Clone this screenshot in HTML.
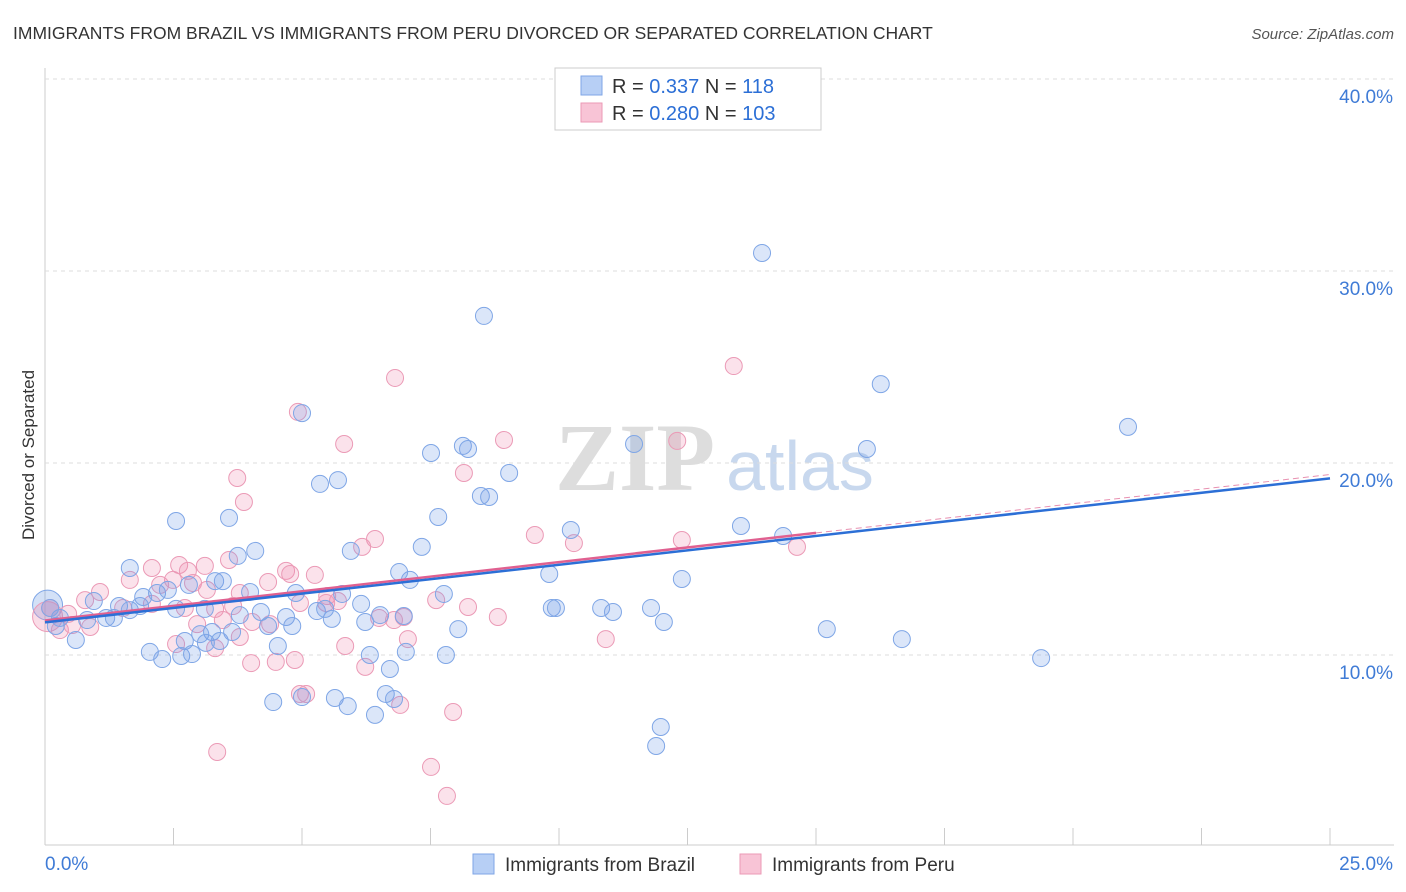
<!DOCTYPE html>
<html><head><meta charset="utf-8">
<style>
body{margin:0;background:#fff;font-family:"Liberation Sans",sans-serif;}
#wrap{position:relative;width:1406px;height:892px;overflow:hidden;}
</style></head>
<body>
<div id="wrap">
<svg id="svg" width="1406" height="892">
<text x="13" y="39" font-size="17.5" fill="#333">IMMIGRANTS FROM BRAZIL VS IMMIGRANTS FROM PERU DIVORCED OR SEPARATED CORRELATION CHART</text>
<text x="1394" y="39" font-size="15" fill="#555" font-style="italic" text-anchor="end">Source: ZipAtlas.com</text>
<text x="34" y="455" font-size="17" fill="#333" text-anchor="middle" transform="rotate(-90 34 455)">Divorced or Separated</text>
<text x="635" y="490" font-size="96" fill="#ddd" font-family="Liberation Serif" font-weight="bold" text-anchor="middle">ZIP</text>
<text x="800" y="490" font-size="70" fill="#c8d8ee" text-anchor="middle">atlas</text>
<g id="grid"></g>
<g id="pts"></g>
<g id="trend"></g>
<g>
<rect x="555" y="68" width="266" height="62" fill="#fff" stroke="#ccc"/>
<rect x="581" y="76" width="21" height="19" fill="#b7cff5" stroke="#7fa6e6"/>
<rect x="581" y="103" width="21" height="19" fill="#f8c4d6" stroke="#eb9ab6"/>
<text x="612" y="93" font-size="20" fill="#333">R = <tspan fill="#2c6fd6">0.337</tspan>   N = <tspan fill="#2c6fd6"> 118</tspan></text>
<text x="612" y="120" font-size="20" fill="#333">R = <tspan fill="#2c6fd6">0.280</tspan>   N = <tspan fill="#2c6fd6">103</tspan></text>
</g>
<g>
<rect x="473" y="854" width="21" height="20" fill="#b7cff5" stroke="#7fa6e6"/>
<text x="505" y="871" font-size="19" fill="#333">Immigrants from Brazil</text>
<rect x="740" y="854" width="21" height="20" fill="#f8c4d6" stroke="#eb9ab6"/>
<text x="772" y="871" font-size="19" fill="#333">Immigrants from Peru</text>
</g>
</svg>
</div>
<script>
const yTicks=[10,20,30,40];
const yTickLabels=["10.0%","20.0%","30.0%","40.0%"];
const xEnds=["0.0%","25.0%"];
const blueX=[13.95,8.54,16.26,21.07,5.0,8.13,8.23,7.51,11.46,15.99,9.03,5.7,5.35,8.48,8.64,2.55,3.58,7.65,10.23,13.54,14.36,5.95,7.33,3.75,4.09,1.65,7.1,6.89,9.81,12.39,3.31,3.46,2.8,3.99,4.88,5.78,7.76,2.18,2.39,1.91,1.44,0.95,2.55,3.11,4.2,4.69,5.29,5.45,6.15,6.52,6.98,9.86,9.94,10.82,11.05,11.79,12.04,15.21,16.67,19.38,8.04,6.23,5.58,4.81,4.34,3.79,3.25,3.02,3.64,2.72,0.6,0.21,0.29,0.1,2.04,2.28,2.65,2.86,3.13,3.4,4.53,6.32,7.02,7.8,6.71,4.44,5.0,5.64,5.89,6.42,6.63,6.79,11.98,11.89,1.19,1.34,1.65,1.85,0.82];
const blueY=[30.94,27.66,24.11,21.88,22.6,20.89,20.73,20.52,20.99,20.73,19.48,19.11,18.91,18.28,18.23,16.98,17.14,17.19,16.51,16.72,16.2,15.42,15.63,15.16,15.42,14.53,13.91,14.32,14.22,13.96,13.85,13.85,13.65,13.28,13.23,13.18,13.18,13.23,13.39,13.02,12.55,12.81,12.4,12.4,12.24,11.98,12.29,12.4,12.66,12.08,12.03,12.45,12.45,12.45,12.24,12.45,11.72,11.35,10.83,9.84,11.35,11.72,11.88,11.51,11.51,12.08,11.2,11.09,11.2,10.73,10.78,11.51,11.93,12.45,10.16,9.79,9.95,10.05,10.63,10.73,10.47,10.0,10.16,10.0,9.27,7.55,7.81,7.76,7.34,6.88,7.97,7.71,6.25,5.26,11.93,11.93,12.34,12.55,11.82];
const pinkX=[13.4,6.81,4.92,5.82,8.93,12.3,8.15,3.74,3.87,6.42,9.53,10.29,12.39,14.63,6.17,2.08,2.61,3.58,2.78,3.11,4.69,4.77,5.25,4.34,1.65,2.24,2.88,2.49,3.15,3.79,5.49,5.7,1.07,0.78,1.52,2.08,2.72,3.31,3.66,4.96,5.47,7.61,8.23,8.81,6.5,6.98,6.79,4.03,4.38,3.46,2.96,0.88,0.29,0.53,3.79,7.06,10.91,5.84,2.55,3.31,4.01,4.49,4.86,6.23,4.96,5.08,6.91,7.94,3.35,7.51,7.82,0.1,0.45];
const pinkY=[25.05,24.43,22.66,20.99,21.2,21.15,19.48,19.22,17.97,16.04,16.25,15.83,15.99,15.63,15.63,14.53,14.69,14.95,14.38,14.64,14.38,14.22,14.17,13.8,13.91,13.65,13.75,13.91,13.39,13.23,13.07,12.81,13.28,12.86,12.45,12.66,12.45,12.4,12.55,12.71,12.71,12.86,12.5,11.98,11.93,11.98,11.82,11.72,11.61,11.82,11.61,11.46,11.3,11.56,10.94,10.83,10.83,10.47,10.57,10.36,9.58,9.64,9.74,9.38,7.97,7.97,7.4,7.03,4.95,4.17,2.66,12.45,12.14];
const xs=v=>45+v*51.4, ys=v=>847-v*19.2;
const NS="http://www.w3.org/2000/svg";
function mk(t,a,p){const e=document.createElementNS(NS,t);for(const k in a)e.setAttribute(k,a[k]);p.appendChild(e);return e;}
const grid=document.getElementById('grid');
mk('line',{x1:45,y1:845,x2:1394,y2:845,stroke:'#ccc'},grid);
mk('line',{x1:45,y1:68,x2:45,y2:845,stroke:'#ccc'},grid);
mk('line',{x1:45,y1:79,x2:1394,y2:79,stroke:'#ddd','stroke-dasharray':'4,4'},grid);
yTicks.forEach((t,i)=>{
 const gl=mk('line',{x1:45,y1:ys(t),x2:1394,y2:ys(t),stroke:'#ddd','stroke-dasharray':'4,4'},grid);
 
 
 const tx=mk('text',{x:1393,y:ys(t)+24,'font-size':19,fill:'#3f7bd6','text-anchor':'end'},grid);
 tx.textContent=yTickLabels[i];
 
 
});
for(let i=0;i<=10;i++){const l=mk('line',{x1:xs(i*2.5),y1:828,x2:xs(i*2.5),y2:845,stroke:'#ccc'},grid);
 
 }
const x0=mk('text',{x:45,y:870,'font-size':19,fill:'#3f7bd6'},grid);x0.textContent=xEnds[0];


const x1=mk('text',{x:1393,y:870,'font-size':19,fill:'#3f7bd6','text-anchor':'end'},grid);x1.textContent=xEnds[1];


const pts=document.getElementById('pts');
function big(x,y,fill,stroke){const c=mk('circle',{cx:xs(x),cy:ys(y),r:15,fill:fill,stroke:stroke},pts);
 
 }
big(0.05,12.6,'rgba(110,155,230,0.3)','#7fa6e6');
big(0.05,12.0,'rgba(240,140,175,0.3)','#eb9ab6');
pinkX.forEach((x,i)=>{const c=mk('circle',{cx:xs(x),cy:ys(pinkY[i]),r:8.5,fill:'rgba(240,140,175,0.25)',stroke:'#eb9ab6','stroke-width':1},pts);
 
 });
blueX.forEach((x,i)=>{const c=mk('circle',{cx:xs(x),cy:ys(blueY[i]),r:8.5,fill:'rgba(110,155,230,0.25)',stroke:'#7fa6e6','stroke-width':1},pts);
 
 });
const tr=document.getElementById('trend');
const blueTrend=[11.7,19.2], pinkTrend=[11.8,19.4];
const pl=x=>pinkTrend[0]+(pinkTrend[1]-pinkTrend[0])*x/25;
const pd=mk('line',{x1:xs(15),y1:ys(pl(15)),x2:xs(25),y2:ys(pl(25)),stroke:'#e890b0','stroke-width':1,'stroke-dasharray':'6,4'},tr);


const ps=mk('line',{x1:xs(0),y1:ys(pl(0)),x2:xs(15),y2:ys(pl(15)),stroke:'#e06090','stroke-width':2.5},tr);


const bl=mk('line',{x1:xs(0),y1:ys(blueTrend[0]),x2:xs(25),y2:ys(blueTrend[1]),stroke:'#2c6fd6','stroke-width':2.5},tr);


</script>
</body></html>
